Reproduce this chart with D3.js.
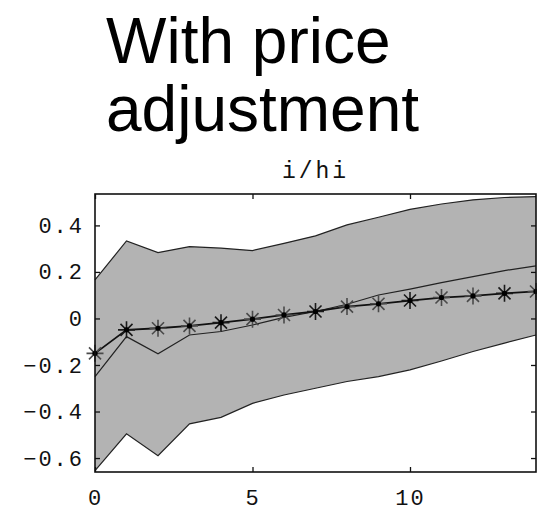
<!DOCTYPE html>
<html>
<head>
<meta charset="utf-8">
<script src="https://cdn.jsdelivr.net/npm/d3@7"></script>
<style>
  html, body { margin: 0; padding: 0; background: #fff; }
  svg { display: block; }
</style>
</head>
<body>
<svg id="chart" width="537" height="518"></svg>
<script>
// ---- data ----
const horizons = [0,1,2,3,4,5,6,7,8,9,10,11,12,13,14];
const response = [-0.150,-0.049,-0.042,-0.032,-0.018,-0.003,0.015,0.030,0.051,0.063,0.077,0.090,0.097,0.108,0.116];
const bandUpper = [0.166,0.333,0.283,0.309,0.302,0.292,0.323,0.355,0.402,0.435,0.469,0.492,0.510,0.520,0.524];
const bandLower = [-0.654,-0.496,-0.590,-0.453,-0.425,-0.365,-0.329,-0.300,-0.271,-0.250,-0.221,-0.183,-0.142,-0.106,-0.071];
const innerLine = [-0.250,-0.078,-0.152,-0.071,-0.056,-0.028,0.005,0.030,0.061,0.101,0.126,0.154,0.180,0.206,0.226];
const yTicks = [0.4,0.2,0,-0.2,-0.4,-0.6];
const xTicks = [0,5,10];
const titleLines = ["With price","adjustment"];
const panelTitle = "i/hi";

// ---- layout ----
const svg = d3.select("#chart");
const L = 95, R = 536, T = 194, B = 472;
const x = d3.scaleLinear().domain([0,14]).range([L,R]);
const y = d3.scaleLinear().domain([-0.66,0.535]).range([B,T]);
const mono = "'Liberation Mono','Courier New',Courier,monospace";

// big title
svg.selectAll("text.big").data(titleLines).enter().append("text")
  .attr("class","big")
  .attr("x",106).attr("y",(d,i)=>63+i*68)
  .attr("font-family","'Liberation Sans',Arial,Helvetica,sans-serif")
  .attr("font-size",64).attr("fill","#000")
  .text(d=>d);

// panel title
svg.append("text").attr("x",(L+R)/2).attr("y",178)
  .attr("text-anchor","middle")
  .attr("font-family",mono).attr("font-size",23)
  .attr("letter-spacing",3)
  .attr("fill","#111").text(panelTitle);

// band
const band = horizons.map((h,i)=>({h, lo:bandLower[i], hi:bandUpper[i]}));
svg.append("path").datum(band)
  .attr("d", d3.area().x(d=>x(d.h)).y0(d=>y(d.lo)).y1(d=>y(d.hi)))
  .attr("fill","#b3b3b3").attr("stroke","none");

const line = d3.line().x((d,i)=>x(horizons[i])).y(d=>y(d));
[bandUpper, bandLower, innerLine].forEach(s=>{
  svg.append("path").datum(s).attr("d",line)
    .attr("fill","none").attr("stroke","#222").attr("stroke-width",1.2);
});

// response with star markers
svg.append("path").datum(response).attr("d",line)
  .attr("fill","none").attr("stroke","#111").attr("stroke-width",1.8);
const r = 8.5, rd = r*Math.SQRT1_2;
const star = `M${-r},0L${r},0M0,${-r}L0,${r}M${-rd},${-rd}L${rd},${rd}M${-rd},${rd}L${rd},${-rd}`;
svg.selectAll("path.star").data(response).enter().append("path")
  .attr("class","star")
  .attr("transform",(d,i)=>`translate(${x(horizons[i])},${y(d)})`)
  .attr("d",star).attr("fill","none")
  .attr("stroke",(d,i)=> (i%3===1) ? "#1a1a1a" : "#4a4a4a")
  .attr("stroke-width",1.6);
svg.selectAll("circle.dot").data(response).enter().append("circle")
  .attr("cx",(d,i)=>x(horizons[i])).attr("cy",d=>y(d)).attr("r",2.6).attr("fill","#000");

// axes with inward ticks on all sides
const tl = 5;
const axL = d3.axisLeft(y).tickValues(yTicks).tickSize(-tl).tickPadding(11)
  .tickFormat(d=> d===0 ? "0" : d3.format(".1f")(d).replace("-","\u2212"));
const axR = d3.axisRight(y).tickValues(yTicks).tickSize(-tl).tickFormat("");
const axB = d3.axisBottom(x).tickValues(xTicks).tickSize(-tl).tickPadding(17).tickFormat(d3.format("d"));
const axT = d3.axisTop(x).tickValues(xTicks).tickSize(-tl).tickFormat("");
function styleAxis(g){
  g.select(".domain").remove();
  g.selectAll(".tick line").attr("stroke","#111").attr("stroke-width",1.3);
  g.selectAll(".tick text").attr("font-family",mono).attr("font-size",22)
    .attr("letter-spacing",2).attr("fill","#111");
}
svg.append("g").attr("transform",`translate(${L},0)`).call(axL).call(styleAxis);
svg.append("g").attr("transform",`translate(${R},0)`).call(axR).call(styleAxis);
svg.append("g").attr("transform",`translate(0,${B})`).call(axB).call(styleAxis);
svg.append("g").attr("transform",`translate(0,${T})`).call(axT).call(styleAxis);

// frame
svg.append("rect").attr("x",L).attr("y",T).attr("width",R-L).attr("height",B-T)
  .attr("fill","none").attr("stroke","#111").attr("stroke-width",1.6);
</script>
</body>
</html>
